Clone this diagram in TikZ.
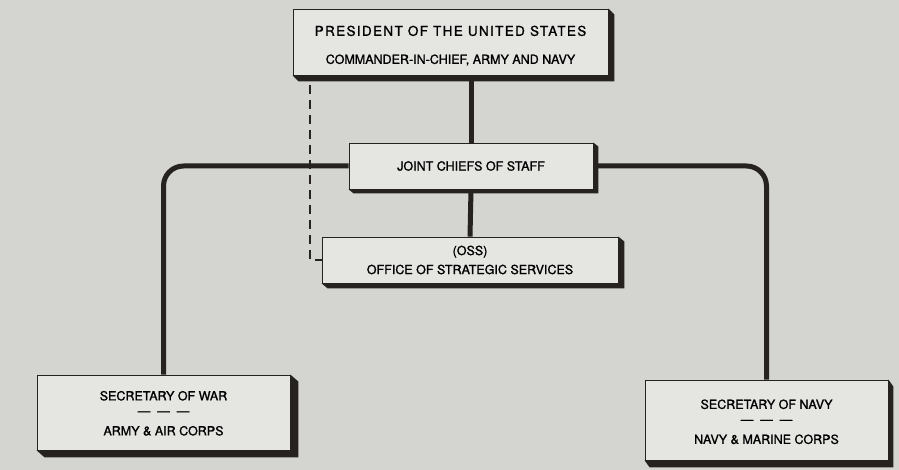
\documentclass[tikz,border=0pt]{standalone}
\usepackage{fontspec}
\setmainfont[FakeBold=1.3]{TeX Gyre Heros}
\newfontfamily\spacedfont[LetterSpace=10,FakeBold=1]{TeX Gyre Heros}
\definecolor{paper}{RGB}{212,212,209}
\definecolor{card}{RGB}{229,229,226}
\definecolor{ink}{RGB}{38,34,32}

\begin{document}
\begin{tikzpicture}[x=1pt,y=-1pt,
	orgbox/.style={draw=ink,line width=0.8pt,fill=card,align=center,inner sep=0pt,
		font=\fontsize{12.5}{15}\selectfont},
	link/.style={draw=ink,line width=5pt},
	shade/.style={fill=ink}]
	\fill[paper] (0,0) rectangle (899,470);
	\useasboundingbox (0,0) rectangle (899,470);
	% boxes
	\node[orgbox,minimum width=315,minimum height=66] (pres) at (450.5,42)
		{{\spacedfont\fontsize{13.5}{15}\selectfont\rule{0pt}{17.5pt}PRESIDENT OF THE UNITED STATES}\\[13pt]
		 COMMANDER-IN-CHIEF, ARMY AND NAVY};
	\node[orgbox,minimum width=244,minimum height=46] (jcs) at (471,166) {JOINT CHIEFS OF STAFF};
	\node[orgbox,minimum width=296,minimum height=46] (oss) at (470,260)
		{(OSS)\\[4pt] OFFICE OF STRATEGIC SERVICES};
	\node[orgbox,minimum width=253,minimum height=75] (war) at (163.5,412.5)
		{\rule{0pt}{11pt}SECRETARY OF WAR\\ —\hspace{7pt}—\hspace{7pt}—\\[5pt] ARMY \& AIR CORPS};
	\node[orgbox,minimum width=243,minimum height=80] (navy) at (766.5,420)
		{\rule{0pt}{13pt}SECRETARY OF NAVY\\ —\hspace{7pt}—\hspace{7pt}—\\[5pt] NAVY \& MARINE CORPS};
	% raised edges
	\foreach \n/\dx/\dy in {pres/6/6,jcs/5/4,oss/6/5,war/8/7,navy/5/7}
		\fill[shade] (\n.north east) -- ++(\dx,\dy) -- ([shift={(\dx,\dy)}]\n.south east)
			-- ([shift={(\dx,\dy)}]\n.south west) -- (\n.south west) -- (\n.south east) -- cycle;
	% lines of command
	\draw[link] (pres.south -| jcs.north) -- (jcs.north);
	\draw[link] (jcs.south) -- (oss.north);
	\draw[link,rounded corners=20] (jcs.west) -| (war.north);
	\draw[link,rounded corners=20] (jcs.east) -| (navy.north);
	\coordinate (dtop) at (310,85);
	\draw[ink,line width=1.1pt,dash pattern=on 9pt off 6pt] (dtop) |- (oss.west);
\end{tikzpicture}
\end{document}
